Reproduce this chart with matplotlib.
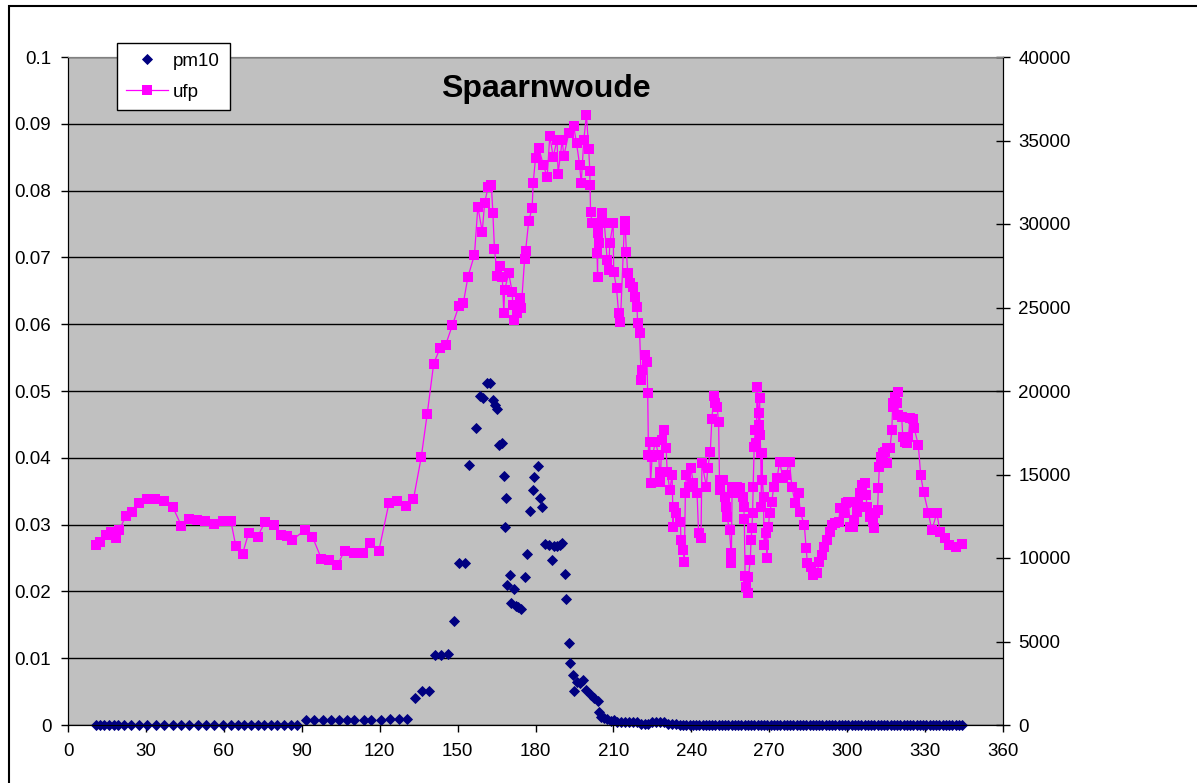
import numpy as np
import matplotlib
matplotlib.use("Agg")
import matplotlib.pyplot as plt
from matplotlib.patches import Rectangle

plt.rcParams['font.family'] = ['Liberation Sans', 'DejaVu Sans']

# ufp readings (x, value)
ufp_x = [10.8, 12.4, 14.6, 16.5, 18.5, 19.7, 22.3, 24.5, 27.4, 30.4, 33.6, 37.0, 40.3, 43.7,
         46.7, 49.6, 52.7, 56.3, 59.5, 62.7, 64.6, 67.2, 69.5, 73.0, 75.9, 79.4, 81.9, 84.2,
         86.4, 91.2, 94.1, 97.6, 100.5, 103.7, 106.5, 110.1, 113.7, 116.3, 119.7, 123.6,
         126.8, 130.0, 133.0, 136.0, 138.3, 140.8, 143.2, 145.4, 148.0, 150.5, 152.2, 154.0,
         156.5, 157.8, 159.5, 160.4, 161.7, 163.0, 163.6, 164.2, 165.3, 166.5, 167.2, 167.8,
         168.1, 169.7, 171.0, 171.3, 171.9, 172.7, 174.0, 174.5, 175.8, 176.2, 177.4, 178.7,
         179.1, 180.0, 181.3, 183.0, 184.5, 185.5, 186.8, 188.3, 188.7, 190.3, 190.9, 192.8,
         194.7, 195.8, 197.0, 197.6, 198.6, 199.6, 200.5, 200.9, 201.0, 201.2, 201.8, 202.4,
         203.7, 203.9, 204.0, 204.4, 205.6, 206.5, 207.6, 208.2, 208.6, 209.9, 210.1, 211.2,
         212.0, 212.7, 214.3, 214.6, 215.0, 215.5, 216.3, 217.6, 218.5, 219.1, 219.3, 220.1,
         220.7, 221.0, 222.3, 222.9, 223.2, 223.5, 224.0, 224.3, 224.9, 226.2, 227.4, 227.8,
         228.0, 228.7, 229.4, 230.3, 230.7, 231.7, 232.6, 233.0, 233.2, 234.2, 235.8, 236.0,
         236.8, 237.3, 237.7, 238.1, 239.0, 239.9, 240.7, 242.2, 242.8, 243.7, 244.1, 245.8,
         246.3, 247.3, 247.9, 248.6, 249.2, 249.9, 250.5, 250.9, 251.2, 252.2, 253.1, 253.5,
         253.7, 254.7, 255.3, 255.4, 255.7, 256.3, 257.6, 258.8, 259.9, 260.2, 260.4, 260.7,
         261.0, 261.7, 262.0, 262.7, 263.0, 263.3, 263.6, 263.8, 264.2, 264.6, 265.0, 265.3,
         265.9, 266.0, 266.3, 266.5, 266.7, 267.0, 267.2, 267.4, 267.8, 268.0, 268.8, 269.1,
         269.7, 270.1, 271.0, 271.7, 273.0, 274.0, 275.3, 276.5, 277.8, 278.7, 280.0, 281.3,
         281.9, 283.5, 284.2, 284.7, 286.0, 287.0, 288.3, 289.3, 290.3, 291.2, 292.2, 293.2,
         294.1, 295.4, 296.7, 297.3, 298.6, 299.6, 300.5, 301.2, 302.2, 302.7, 303.7, 304.3,
         305.0, 305.7, 306.7, 307.3, 307.6, 308.6, 309.9, 310.4, 310.8, 311.7, 312.0, 312.4,
         312.9, 313.7, 314.6, 315.3, 315.5, 316.5, 317.2, 317.5, 317.8, 318.5, 319.1, 319.4,
         319.7, 321.0, 321.4, 322.3, 323.2, 323.6, 324.2, 325.3, 325.8, 327.4, 328.3, 329.4,
         331.3, 332.6, 334.5, 335.8, 337.7, 339.4, 341.9, 344.1]
ufp = [10778, 10975, 11377, 11577, 11178, 11677, 12515, 12773, 13313, 13514, 13514, 13430, 13072, 11916,
       12315, 12275, 12215, 12016, 12235, 12215, 10718, 10240, 11479, 11277, 12175, 11976, 11377, 11317,
       11078, 11677, 11277, 9940, 9880, 9581, 10438, 10318, 10318, 10917, 10438, 13313,
       13430, 13114, 13514, 16030, 18623, 21640, 22556, 22754, 23952, 25090, 25251, 26845,
       28150, 31035, 29540, 31239, 32197, 32335, 30640, 28485, 26887, 27486, 26845, 24689,
       26047, 27047, 25945, 25150, 24251, 24652, 25550, 24951, 27887, 28401, 30197, 30940,
       32437, 33935, 34532, 33533, 32832, 35269, 34030, 35030, 32994, 35030, 34072, 35429,
       35868, 34831, 33533, 32437, 35030, 36527, 34472, 33194, 32335, 30737, 30040, 30040,
       28245, 26845, 29480, 28844, 30640, 30040, 27845, 27246, 28844, 30077, 27144, 26150,
       24652, 24152, 30197, 29640, 28341, 27047, 26449, 26245, 25646, 25047, 24052, 23453,
       20659, 21257, 22156, 21754, 19900, 16168, 16964, 14473, 16066, 16964, 16168, 15168,
       14569, 17066, 17665, 16568, 15168, 14072, 14970, 11874, 13072, 12677, 12175, 11078,
       10479, 9779, 13874, 14970, 14270, 15371, 14473, 13874, 11479, 11180, 15670, 14270,
       15371, 16366, 18305, 19701, 19263, 19062, 18162, 14072, 14671, 14671, 13672, 13072,
       12473, 11677, 10281, 9719, 14270, 13874, 14270, 14173, 13672, 13072, 12315, 8922,
       8281, 7922, 8880, 9880, 11078, 11778, 12677, 14270, 16665, 17665, 16868, 20258,
       17964, 18665, 19563, 17365, 16305, 13072, 16269, 14671, 13672, 10778, 11479, 9981,
       11874, 12677, 13373, 14270, 14772, 15767, 14772, 14970, 15767, 14270, 13274, 13874,
       12773, 11976, 10578, 9681, 9481, 8982, 9083, 9779, 10180, 10677, 11078, 11577,
       11976, 12076, 12175, 12974, 12677, 13274, 13373, 11874, 11874, 12275, 12773, 13373,
       13874, 14371, 14473, 13773, 13072, 12473, 12175, 11778, 12677, 12874, 14173, 15467,
       16066, 16269, 16366, 15670, 16568, 16568, 17665, 19062, 19263, 19661, 19263, 19960,
       18563, 18461, 17265, 16964, 16868, 17265, 18365, 18305, 17767, 16766, 14970, 13970,
       12677, 11677, 12677, 11577, 11178, 10778, 10641, 10820]

# pm10 readings (x, value)
pm10_x = [10.8, 12.4, 14.0, 15.9, 17.6, 19.4, 21.7, 24.2, 27.4, 30.6, 33.8, 37.0, 40.3, 43.5,
          46.7, 49.9, 53.1, 56.3, 59.5, 62.7, 65.3, 67.8, 70.4, 73.0, 75.5, 78.1, 80.6, 83.2,
          85.8, 88.3, 91.5, 94.7, 98.0, 101.2, 104.3, 107.6, 110.1, 114.0, 116.8, 120.4,
          124.0, 127.4, 130.7, 133.6, 136.4, 139.0, 141.2, 143.7, 146.3, 148.6, 150.5, 152.7,
          154.4, 157.0, 158.6, 159.9, 161.2, 162.4, 163.7, 164.3, 165.0, 165.9, 167.2, 167.8,
          168.2, 168.8, 169.1, 170.1, 170.7, 171.7, 172.3, 173.4, 174.5, 175.8, 176.8, 177.8,
          179.1, 179.6, 180.9, 181.7, 182.6, 183.8, 185.1, 186.4, 187.0, 188.3, 189.3, 190.3,
          191.2, 191.8, 192.8, 193.2, 194.5, 195.0, 195.8, 197.0, 198.3, 199.6, 201.2, 202.7,
          204.0, 204.4, 205.3, 206.3, 207.6, 209.0, 210.1, 211.5, 213.0, 214.5, 216.0, 217.5,
          219.0, 220.5, 222.0, 223.5, 225.0, 226.5, 228.0, 229.5, 231.0, 232.5, 234.0,
          235.5, 236.8, 238.0, 239.3, 240.5, 241.8, 243.0, 244.3, 245.5, 246.8, 248.0, 249.3,
          250.5, 251.8, 253.0, 254.3, 255.5, 256.8, 258.0, 259.3, 260.5, 261.8, 263.0, 264.3,
          265.5, 266.8, 268.0, 269.3, 270.5, 271.8, 273.0, 274.3, 275.5, 276.8, 278.0, 279.3,
          280.5, 281.8, 283.0, 284.3, 285.5, 286.8, 288.0, 289.3, 290.5, 291.8, 293.0, 294.3,
          295.5, 296.8, 298.0, 299.3, 300.5, 301.8, 303.0, 304.3, 305.5, 306.8, 308.0, 309.3,
          310.5, 311.8, 313.0, 314.3, 315.5, 316.8, 318.0, 319.3, 320.5, 321.8, 323.0, 324.3,
          325.5, 326.8, 328.0, 329.3, 330.5, 331.8, 333.0, 334.3, 335.5, 336.8, 338.0, 339.3,
          340.5, 341.8, 343.0, 344.3]
pm10 = [0, 0, 0, 0, 0, 0, 0, 0, 0, 0, 0, 0, 0, 0,
        0, 0, 0, 0, 0, 0, 0, 0, 0, 0, 0, 0, 0, 0,
        0, 0, 0.0008, 0.0008, 0.0008, 0.0008, 0.0008, 0.0008, 0.0008, 0.0008, 0.0008, 0.0008,
        0.0009, 0.0009, 0.0009, 0.0041, 0.0051, 0.0051, 0.0105, 0.0105, 0.0107, 0.0156, 0.0243, 0.0243,
        0.0389, 0.0445, 0.0493, 0.0489, 0.0512, 0.0512, 0.0487, 0.0479, 0.0473, 0.0419, 0.0422, 0.0373,
        0.0296, 0.0340, 0.0210, 0.0225, 0.0182, 0.0203, 0.0178, 0.0176, 0.0173, 0.0221, 0.0256, 0.0321,
        0.0352, 0.0371, 0.0387, 0.0340, 0.0327, 0.0271, 0.0269, 0.0247, 0.0268, 0.0268, 0.0269, 0.0273,
        0.0226, 0.0189, 0.0123, 0.0093, 0.0075, 0.0051, 0.0065, 0.0063, 0.0067, 0.0052, 0.0045, 0.0040,
        0.0036, 0.0020, 0.0012, 0.0010, 0.0009, 0.0006, 0.0007, 0.0005, 0.0004, 0.0005, 0.0005, 0.0005,
        0.0004, 0.0002, 0.0001, 0.0002, 0.0005, 0.0005, 0.0005, 0.0004, 0.0001, 0.0001, 0.0001,
        0, 0, 0, 0, 0, 0, 0, 0, 0, 0, 0, 0,
        0, 0, 0, 0, 0, 0, 0, 0, 0, 0, 0, 0,
        0, 0, 0, 0, 0, 0, 0, 0, 0, 0, 0, 0,
        0, 0, 0, 0, 0, 0, 0, 0, 0, 0, 0, 0,
        0, 0, 0, 0, 0, 0, 0, 0, 0, 0, 0, 0,
        0, 0, 0, 0, 0, 0, 0, 0, 0, 0, 0, 0,
        0, 0, 0, 0, 0, 0, 0, 0, 0, 0, 0, 0,
        0, 0, 0, 0]

x_ticks = [0, 30, 60, 90, 120, 150, 180, 210, 240, 270, 300, 330, 360]
left_ticks = [0, 0.01, 0.02, 0.03, 0.04, 0.05, 0.06, 0.07, 0.08, 0.09, 0.1]
left_labels = ['0', '0.01', '0.02', '0.03', '0.04', '0.05', '0.06', '0.07', '0.08', '0.09', '0.1']
right_ticks = [0, 5000, 10000, 15000, 20000, 25000, 30000, 35000, 40000]

W, H = 1197, 783
fig = plt.figure(figsize=(W / 100, H / 100), dpi=100)
fig.patch.set_facecolor('white')

# outer chart border
fig.patches.append(Rectangle((9 / W, -0.1), 1.2, 1 - 6 / H + 0.1, transform=fig.transFigure,
                             fill=False, edgecolor='black', linewidth=1.5))

ax = fig.add_axes([68 / W, 1 - 725 / H, (1003 - 68) / W, (725 - 57) / H])
ax.set_facecolor('#C0C0C0')
ax2 = ax.twinx()

order = np.argsort(ufp_x, kind='stable')
ux = np.array(ufp_x)[order]
uy = np.array(ufp)[order]

ax.plot(pm10_x, pm10, linestyle='none', marker='D', markersize=5.3, color='#000080',
        markeredgewidth=0.6, label='pm10', clip_on=False, zorder=3)
ax2.plot(ux, uy, color='#FF00FF', linewidth=0.9, marker='s', markersize=6.6,
         markeredgewidth=0, label='ufp', zorder=3)

ax.set_xlim(0, 360)
ax.set_ylim(0, 0.1)
ax2.set_ylim(0, 40000)
ax.set_xticks(x_ticks)
ax.set_xticklabels([str(t) for t in x_ticks])
ax.set_yticks(left_ticks)
ax.set_yticklabels(left_labels)
ax2.set_yticks(right_ticks)
ax2.set_yticklabels([str(t) for t in right_ticks])

ax.yaxis.grid(True, color='black', linewidth=1.0)
ax.set_axisbelow(True)

ax.tick_params(axis='x', direction='out', length=5, width=1, labelsize=13.5, pad=8)
ax.tick_params(axis='y', direction='out', length=5, width=1, labelsize=13.5, pad=7)
ax2.tick_params(axis='y', direction='inout', length=10, width=1, labelsize=13.5, pad=6)

for s in ['left', 'bottom', 'right']:
    ax.spines[s].set_color('black')
    ax2.spines[s].set_color('black')
ax.spines['top'].set_color('#808080')
ax2.spines['top'].set_color('#808080')

fig.text(546 / W, 1 - 97 / H, 'Spaarnwoude', ha='center', va='baseline',
         fontsize=23, fontweight='bold')

h1, l1 = ax.get_legend_handles_labels()
h2, l2 = ax2.get_legend_handles_labels()
leg = fig.legend(h1 + h2, l1 + l2, loc='upper left', bbox_to_anchor=(117 / W, 1 - 43 / H),
                 fontsize=13.5, frameon=True, fancybox=False, framealpha=1, edgecolor='black',
                 handlelength=2.2, handletextpad=0.3, labelspacing=0.75, borderpad=0.5,
                 borderaxespad=0)
leg.get_frame().set_linewidth(1.0)

fig.savefig('out.png', dpi=100)
